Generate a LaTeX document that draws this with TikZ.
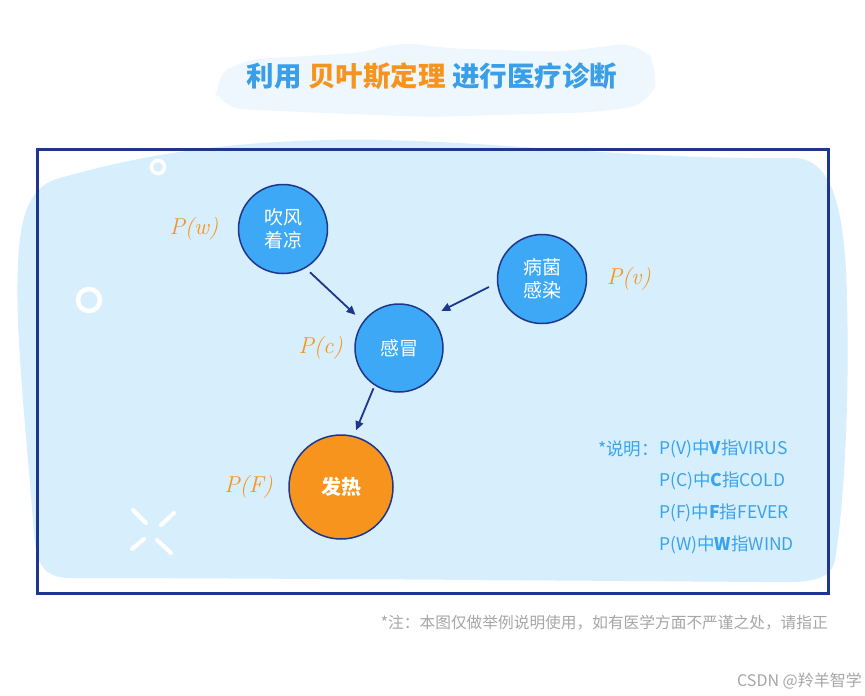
\documentclass[tikz,border=0pt]{standalone}
\usepackage{fontspec}
\newfontfamily\cjk{Noto Sans CJK SC}
\usepackage{xcolor}
\usepackage{tikz}
\usetikzlibrary{arrows.meta,positioning}

\definecolor{navy}{RGB}{30,55,140}
\definecolor{nodeblue}{RGB}{61,168,245}
\definecolor{fevorange}{RGB}{247,148,29}
\definecolor{blobblue}{RGB}{215,239,252}
\definecolor{cloudblue}{RGB}{238,247,254}
\definecolor{legendblue}{RGB}{58,163,238}
\definecolor{titleblue}{RGB}{58,158,232}
\definecolor{notegray}{RGB}{166,166,166}

\begin{document}
\begin{tikzpicture}[x=1pt,y=-1pt,
  disease/.style={circle,draw=navy,line width=1.5pt,fill=nodeblue,text=white,
    font=\cjk\fontsize{19}{23}\selectfont,align=center,inner sep=0pt},
  fever/.style={disease,fill=fevorange,font=\cjk\bfseries\fontsize{20}{24}\selectfont},
  plabel/.style={text=fevorange,font=\itshape\fontsize{23}{25}\selectfont},
  link/.style={-{Triangle[length=9pt,width=8pt]},draw=navy,line width=1.8pt},
  legend/.style={text=legendblue,font=\cjk\fontsize{17.5}{20}\selectfont,anchor=west,inner sep=0pt},
  deco/.style={draw=white,line width=4pt,line cap=round}]
  \useasboundingbox (0,0) rectangle (865,696);
  \fill[white] (0,0) rectangle (865,696);

  % title cloud and title
  \fill[cloudblue,rounded corners=22pt] (212,80) -- (240,60) -- (372,52) -- (398,41)
    -- (440,48) -- (560,52) -- (640,42) -- (660,70) -- (650,104) -- (600,112)
    -- (430,117) -- (300,112) -- (220,108) -- cycle;
  \node[font=\cjk\bfseries\fontsize{27.5}{32}\selectfont] (title) at (432,76)
    {\textcolor{titleblue}{利用} \textcolor{fevorange}{贝叶斯定理} \textcolor{titleblue}{进行医疗诊断}};

  % background blob
  \fill[blobblue] (60,178) .. controls (150,152) and (250,138) .. (380,140)
    .. controls (500,142) and (650,160) .. (790,158)
    .. controls (830,156) and (845,200) .. (847,300)
    .. controls (850,420) and (842,520) .. (835,560)
    .. controls (830,585) and (800,582) .. (760,582)
    .. controls (500,580) and (200,578) .. (70,578)
    .. controls (40,578) and (35,560) .. (33,520)
    .. controls (25,420) and (15,330) .. (18,265)
    .. controls (20,210) and (32,185) .. (60,178) -- cycle;
  \draw[navy,line width=3pt] (37,149) rectangle (828,593);

  % white decorations
  \draw[deco,line width=3.5pt] (158,167) circle (6.5);
  \draw[deco,line width=4.5pt] (89,300) circle (11);
  \draw[deco] (133,510) -- (146,523);
  \draw[deco] (174,513) -- (161,525);
  \draw[deco] (132,549) -- (144,539);
  \draw[deco] (157,540) -- (171,553);

  % network
  \node[disease,minimum size=89pt,
    label={[plabel,label distance=16pt]left:P(w)}] (wind) at (283,229) {吹风\\着凉};
  \node[disease,minimum size=89pt,
    label={[plabel,label distance=16pt]right:P(v)}] (virus) at (542,279) {病菌\\感染};
  \node[disease,minimum size=88pt,
    label={[plabel,label distance=8pt]left:P(c)}] (cold) at (399,348) {感冒};
  \node[fever,minimum size=104pt,
    label={[plabel,label distance=12pt]left:P(F)}] (fever) at (341,487) {发热};

  \draw[link,shorten <=6pt,shorten >=10pt] (wind.-60) -- (cold.144);
  \draw[link,shorten <=9pt,shorten >=12pt] (virus.-175) -- (cold.45);
  \draw[link,shorten <=3pt,shorten >=6pt] (cold.-123) -- (fever.76);

  % legend
  \node[legend] (legV) at (659,449) {P(V)中\textbf{V}指VIRUS};
  \node[legend,anchor=east] (legtitle) at (legV.west) {*说明：};
  \node[legend] (legC) at (659,481) {P(C)中\textbf{C}指COLD};
  \node[legend] (legF) at (659,513) {P(F)中\textbf{F}指FEVER};
  \node[legend] (legW) at (659,545) {P(W)中\textbf{W}指WIND};

  % notes
  \node[text=notegray,font=\cjk\fontsize{15.7}{18}\selectfont,anchor=east,inner sep=0pt] (note)
    at (828,623) {*注：本图仅做举例说明使用，如有医学方面不严谨之处，请指正};
  \node[text=notegray,font=\cjk\fontsize{16}{18}\selectfont,anchor=east,inner sep=0pt] (mark)
    at (862,681) {CSDN @羚羊智学};
\end{tikzpicture}
\end{document}
